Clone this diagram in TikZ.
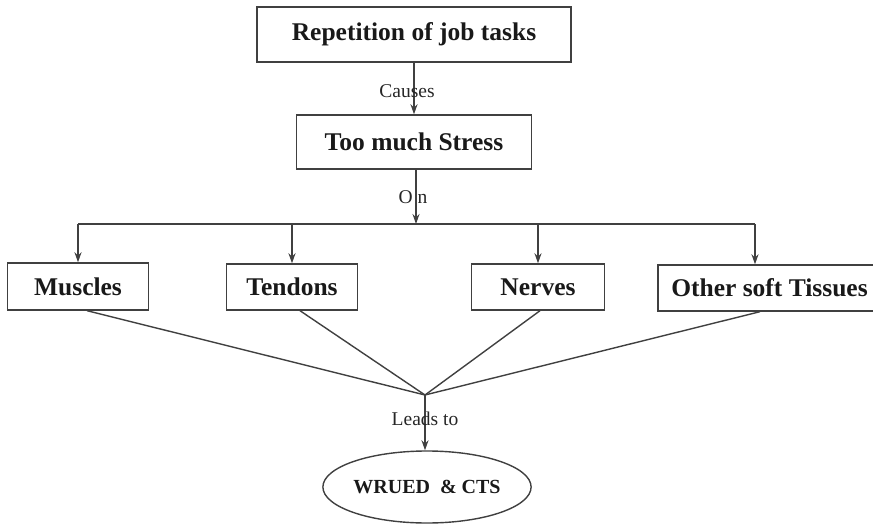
\documentclass[tikz,border=0pt]{standalone}
\usepackage{fontspec}
\setmainfont{Liberation Serif}
\usetikzlibrary{shapes,arrows.meta,calc}

\begin{document}
\begin{tikzpicture}[x=1pt, y=-1pt, >={Stealth[length=10pt,width=7pt]}, line width=1.4pt,
  box/.style={draw=black!75, inner sep=0pt, text=black!90, font=\fontsize{25.5}{30}\selectfont\bfseries},
  lbl/.style={font=\fontsize{19.5}{23}\selectfont, text=black!85}]
  \useasboundingbox (0,0) rectangle (873,527);
  \clip (0,0) rectangle (873,527);
  % Nodes
  \node[box, minimum width=314pt, minimum height=55pt](rep) at (414,34.5) {Repetition of job tasks};
  \node[box, minimum width=235pt, minimum height=54pt](stress) at (414,142) {Too much Stress};
  \node[box, minimum width=141pt, minimum height=47pt](muscles) at (78,286.5) {Muscles};
  \node[box, minimum width=131pt, minimum height=46pt](tendons) at (292,287) {Tendons};
  \node[box, minimum width=133pt, minimum height=46pt](nerves) at (538,287) {Nerves};
  \node[box, minimum width=223pt, minimum height=46pt](other) at (769.5,288) {Other soft Tissues};
  \node[box, ellipse, minimum width=174pt, minimum height=72pt, font=\fontsize{20}{24}\selectfont\bfseries](wrued) at (427,487) {WRUED~ \& CTS};
  \coordinate (bus) at (416,224);
  \coordinate (busR) at (755,224);
  \coordinate (join) at (425,395);
  % Edges
  \draw[->, black!75](rep.south)--node[lbl, xshift=-7pt, yshift=-3pt]{Causes}(stress.north);
  \draw[->, black!75](stress.south -| bus)--node[lbl, xshift=-3pt]{O\hspace{5pt}n}(bus);
  \draw[black!75](muscles.north |- bus)--(busR);
  \foreach \n in {muscles,tendons,nerves}
    \draw[->, black!75](\n.north |- bus)--(\n.north);
  \draw[->, black!75](busR)--(busR |- other.north);
  \draw[black!75]($(muscles.south)+(9,0)$)--(join);
  \draw[black!75]($(tendons.south)+(8,0)$)--(join);
  \draw[black!75]($(nerves.south)+(2,0)$)--(join);
  \draw[black!75]($(other.south)+(-9.5,0)$)--(join);
  \draw[->, black!75](join)--node[lbl, pos=0.43]{Leads to}(wrued.north -| join);
\end{tikzpicture}
\end{document}
